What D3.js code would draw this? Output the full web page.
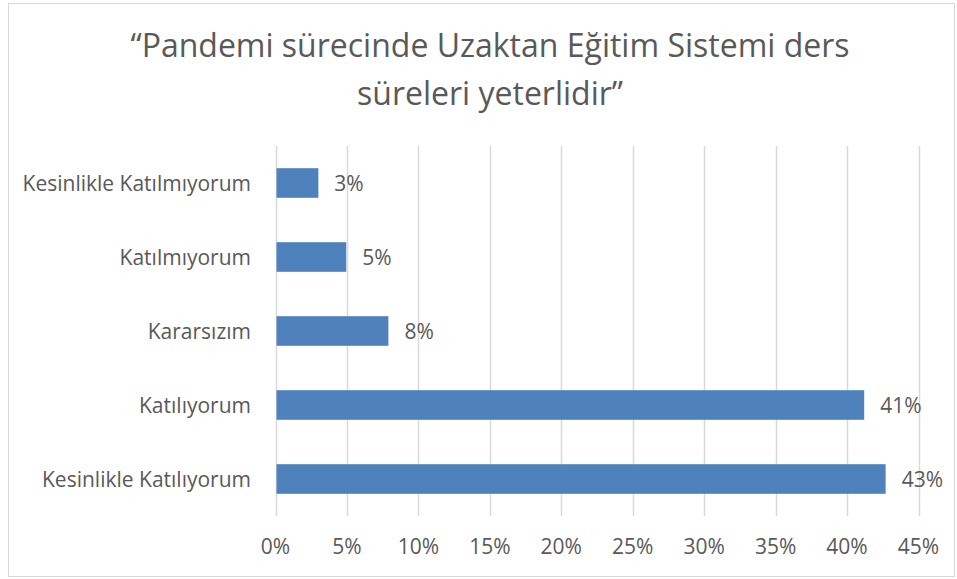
<!DOCTYPE html>
<html>
<head>
<meta charset="utf-8">
<script src="https://cdn.jsdelivr.net/npm/d3@7"></script>
<style>
  body { margin: 0; background: #fff; }
  text { font-family: "Open Sans", "Noto Sans", sans-serif; fill: #595959; }
</style>
</head>
<body>
<div id="chart"></div>
<script>
// answers, top to bottom
var categories = ['Kesinlikle Katılmıyorum', 'Katılmıyorum', 'Kararsızım', 'Katılıyorum', 'Kesinlikle Katılıyorum'];
var values = [3.0, 4.95, 7.9, 41.2, 42.7];
var labels = ['3%', '5%', '8%', '41%', '43%'];
var ticks = [0, 5, 10, 15, 20, 25, 30, 35, 40, 45];
var titleLines = ['“Pandemi sürecinde Uzaktan Eğitim Sistemi ders', 'süreleri yeterlidir”'];

var width = 957, height = 579;
var plotLeft = 275.5, plotRight = 918.5, plotTop = 146, plotBottom = 516;

var svg = d3.select('#chart')
  .append('svg')
  .attr('width', width)
  .attr('height', height);

// chart frame
svg.append('rect')
  .attr('x', 8.5).attr('y', 3.5)
  .attr('width', 946).attr('height', 573)
  .attr('fill', '#fff')
  .attr('stroke', '#d9d9d9')
  .attr('stroke-width', 1);

var x = d3.scaleLinear().domain([0, 45]).range([plotLeft, plotRight]);
var y = d3.scaleBand().domain(categories).range([plotTop, plotBottom]).paddingInner(0.6).paddingOuter(0.3);

// grid lines
svg.append('g')
  .selectAll('line')
  .data(ticks)
  .enter()
  .append('line')
  .attr('x1', function (d) { return Math.round(x(d)) + 0.5; })
  .attr('x2', function (d) { return Math.round(x(d)) + 0.5; })
  .attr('y1', plotTop)
  .attr('y2', plotBottom)
  .attr('stroke', '#d9d9d9')
  .attr('stroke-width', 1.5);

// bars
svg.append('g')
  .selectAll('rect')
  .data(values)
  .enter()
  .append('rect')
  .attr('x', x(0) + 1)
  .attr('y', function (d, i) { return y(categories[i]); })
  .attr('width', function (d) { return x(d) - x(0) - 1; })
  .attr('height', y.bandwidth())
  .attr('fill', '#4f81bd');

// value labels
svg.append('g')
  .selectAll('text')
  .data(values)
  .enter()
  .append('text')
  .attr('x', function (d) { return x(d) + 16; })
  .attr('y', function (d, i) { return y(categories[i]) + y.bandwidth() / 2 + 7.5; })
  .style('font-size', '21px')
  .text(function (d, i) { return labels[i]; });

// category labels
svg.append('g')
  .selectAll('text')
  .data(categories)
  .enter()
  .append('text')
  .attr('x', 251)
  .attr('y', function (d) { return y(d) + y.bandwidth() / 2 + 7.5; })
  .attr('text-anchor', 'end')
  .style('font-size', '21px')
  .text(function (d) { return d; });

// x tick labels
svg.append('g')
  .selectAll('text')
  .data(ticks)
  .enter()
  .append('text')
  .attr('x', function (d) { return x(d); })
  .attr('y', 554)
  .attr('text-anchor', 'middle')
  .style('font-size', '21px')
  .text(function (d) { return d + '%'; });

// title
svg.append('g')
  .selectAll('text')
  .data(titleLines)
  .enter()
  .append('text')
  .attr('x', 490)
  .attr('y', function (d, i) { return 57 + i * 48; })
  .attr('text-anchor', 'middle')
  .style('font-size', '32px')
  .text(function (d) { return d; });
</script>
</body>
</html>
